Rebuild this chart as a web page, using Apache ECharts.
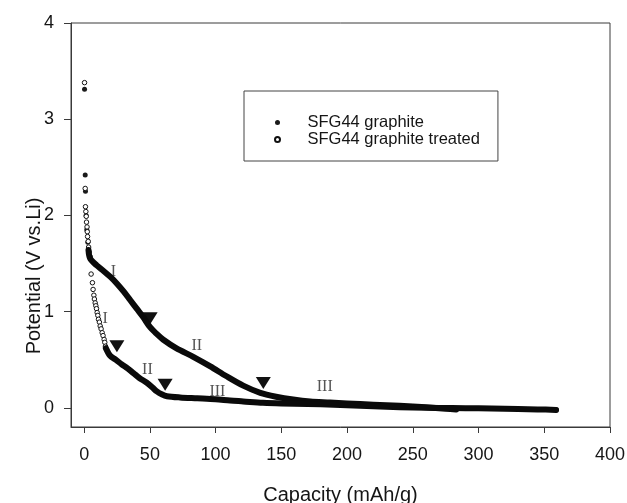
<!DOCTYPE html>
<html lang="en">
	<head>
		<meta charset="UTF-8" />
		<title>Potential vs Capacity</title>
		<style>
			html, body { margin: 0; padding: 0; background: #fff; }
			#chart { width: 627px; height: 503px; }
		</style>
	</head>
	<body>
		<div id="chart"></div>
		<script src="https://cdn.jsdelivr.net/npm/echarts@6/dist/echarts.min.js"></script>
		<script>
			// tick values
			const xTicks = [0, 50, 100, 150, 200, 250, 300, 350, 400];
			const yTicks = [0, 1, 2, 3, 4];

			// individually visible points near the start
			const graphiteDots = [[0.3, 3.31], [0.8, 2.42], [1.0, 2.25], [1.5, 2.0], [2.0, 1.85], [2.8, 1.72]];
			const treatedDots = [
				[0.3, 3.38], [0.8, 2.28], [1.0, 2.09], [1.3, 2.04], [1.6, 1.99], [1.8, 1.93], [2.2, 1.88],
				[2.4, 1.83], [2.6, 1.78], [3.1, 1.73], [3.4, 1.67], [3.8, 1.62], [4.6, 1.57],
				[5.3, 1.39], [6.3, 1.3], [6.8, 1.23], [7.4, 1.17], [7.8, 1.13], [8.4, 1.09], [8.9, 1.06],
				[9.4, 1.03], [9.9, 0.99], [10.4, 0.96], [10.9, 0.92], [11.6, 0.89], [12.2, 0.85],
				[12.9, 0.82], [13.7, 0.78], [14.4, 0.75], [15.2, 0.71], [15.7, 0.68], [16.2, 0.64],
				[359, -0.022]
			];

			// dense parts of the curves (drawn as thick bands)
			const graphiteCurve = [
				[3.3, 1.64], [4.6, 1.55], [9.6, 1.48], [15, 1.42], [20, 1.36], [25, 1.29], [30, 1.21],
				[35, 1.12], [40, 1.03], [45, 0.94], [50, 0.84], [55, 0.77], [60, 0.71], [70, 0.62],
				[83, 0.53], [96, 0.43], [108, 0.33], [121, 0.23], [134, 0.155], [146, 0.115], [159, 0.085],
				[172, 0.065], [187, 0.055], [200, 0.045], [220, 0.032], [240, 0.02], [260, 0.005],
				[275, -0.01], [283, -0.018]
			];
			const treatedCurve = [
				[16.5, 0.62], [19.8, 0.54], [24, 0.5], [28.7, 0.45], [33, 0.41], [37.5, 0.36], [42, 0.31],
				[47.7, 0.26], [52, 0.21], [55.3, 0.17], [59, 0.14], [63, 0.12], [73, 0.107], [86, 0.098],
				[100, 0.088], [111, 0.075], [121, 0.066], [136, 0.052], [150, 0.045], [170, 0.04],
				[190, 0.03], [210, 0.02], [230, 0.01], [250, 0.002], [270, -0.002], [290, -0.004],
				[310, -0.008], [330, -0.013], [345, -0.017], [359, -0.022]
			];

			// stage markers and region labels
			const triangles = [[24.9, 0.64], [50.2, 0.93], [61.6, 0.24], [136.3, 0.257]];
			const stageLabels = [
				[22.3, 1.417, "I"], [16, 0.92, "I"], [85.7, 0.645, "II"],
				[48.1, 0.39, "II"], [101.4, 0.17, "III"], [183, 0.215, "III"]
			];

			const myChart = echarts.init(document.getElementById("chart"));
			const textColor = "#151515";
			const lineColor = "#3a3a3a";

			myChart.setOption({
				animation: false,
				textStyle: { fontFamily: "Liberation Sans, Arial, sans-serif", color: textColor },
				grid: {
					left: 71, top: 23, right: 17, bottom: 76,
					outerBoundsMode: "none", containLabel: false,
					show: true, borderColor: lineColor, borderWidth: 1
				},
				legend: {
					data: ["SFG44 graphite", "SFG44 graphite treated"],
					orient: "vertical",
					left: 244, top: 91,
					padding: [23, 18, 13, 30],
					itemWidth: 50, itemHeight: 5, itemGap: 0,
					borderColor: "#444", borderWidth: 1,
					textStyle: { fontSize: 16.5, lineHeight: 14.5, color: textColor }
				},
				xAxis: {
					type: "value", min: -10, max: 400,
					name: "Capacity (mAh/g)", nameLocation: "middle", nameGap: 58,
					nameTextStyle: { fontSize: 20, color: textColor },
					splitLine: { show: false },
					axisLine: { onZero: false, lineStyle: { color: lineColor } },
					axisTick: { customValues: xTicks, length: 6, lineStyle: { color: lineColor } },
					axisLabel: { customValues: xTicks, fontSize: 18, margin: 19, color: textColor }
				},
				yAxis: {
					type: "value", min: -0.2, max: 4,
					name: "Potential (V vs.Li)", nameLocation: "middle", nameGap: 27,
					nameMoveOverlap: false,
					nameTextStyle: { fontSize: 20, color: textColor, padding: [0, 102, 0, 0] },
					splitLine: { show: false },
					axisLine: { show: true, onZero: false, lineStyle: { color: lineColor } },
					axisTick: { show: true, customValues: yTicks, length: 7, lineStyle: { color: lineColor } },
					axisLabel: { customValues: yTicks, fontSize: 18, margin: 17, color: textColor }
				},
				series: [
					{
						name: "graphite band", type: "line", data: graphiteCurve,
						showSymbol: false, smooth: 0.3,
						lineStyle: { color: "#0a0a0a", width: 6, cap: "round", join: "round" }
					},
					{
						name: "treated band", type: "line", data: treatedCurve,
						showSymbol: false, smooth: 0.3,
						lineStyle: { color: "#0a0a0a", width: 6, cap: "round", join: "round" }
					},
					{
						name: "SFG44 graphite", type: "scatter", data: graphiteDots,
						symbol: "circle", symbolSize: 5,
						itemStyle: { color: "#1a1a1a", opacity: 1 }
					},
					{
						name: "SFG44 graphite treated", type: "scatter", data: treatedDots,
						symbol: "circle", symbolSize: 4.5,
						itemStyle: { color: "#fff", borderColor: "#111", borderWidth: 1, opacity: 1 }
					},
					{
						name: "stage", type: "scatter", data: triangles,
						symbol: "triangle", symbolRotate: 180, symbolSize: [15, 12],
						itemStyle: { color: "#111", opacity: 1 }
					},
					{
						name: "region", type: "scatter", data: stageLabels,
						symbolSize: 0,
						label: {
							show: true, position: "inside",
							formatter: (p) => p.data[2],
							fontFamily: "Liberation Serif, Times New Roman, serif",
							fontSize: 16, color: "#2a2a2a"
						}
					}
				]
			});
		</script>
	</body>
</html>
